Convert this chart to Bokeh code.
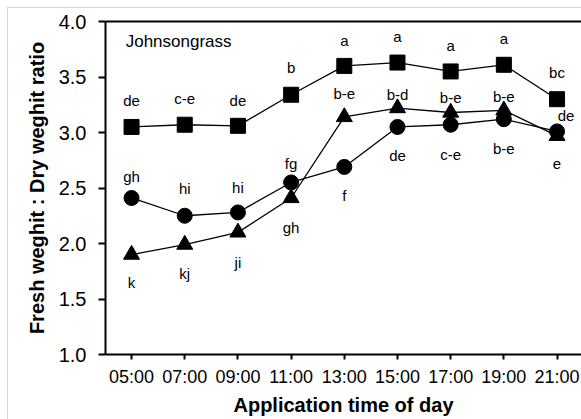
from bokeh.plotting import figure
from bokeh.models import (ColumnDataSource, FixedTicker, LinearAxis, Range1d,
                          NumeralTickFormatter)
from bokeh.embed import file_html
from bokeh.resources import INLINE
from bokeh.core.properties import value

# ---- data ----
times = ["05:00", "07:00", "09:00", "11:00", "13:00", "15:00", "17:00", "19:00", "21:00"]
square_vals = [3.05, 3.07, 3.06, 3.34, 3.60, 3.63, 3.55, 3.61, 3.30]
triangle_vals = [1.90, 1.99, 2.10, 2.41, 3.14, 3.22, 3.18, 3.20, 2.97]
circle_vals = [2.41, 2.25, 2.28, 2.55, 2.69, 3.05, 3.07, 3.12, 3.01]
square_labels = ["de", "c-e", "de", "b", "a", "a", "a", "a", "bc"]
triangle_labels = ["k", "kj", "ji", "gh", "b-e", "b-d", "b-e", "b-e", "e"]
circle_labels = ["gh", "hi", "hi", "fg", "f", "de", "c-e", "b-e", "de"]
y_ticks = [1.0, 1.5, 2.0, 2.5, 3.0, 3.5, 4.0]

# label placement (screen px offsets, style only)
square_dy = [-26, -26, -25, -27, -25, -26, -26, -26, -27]
triangle_dy = [28, 29, 30, 30, -23, -14, -15, -14, 28]
circle_dy = [-21, -27, -25, -19, 29, 29, 30, 29, -16]
circle_dx = [0, 0, 0, 0, 0, 0, 0, 0, 9]

FONT = "Liberation Sans"
idx = list(range(len(times)))

GRAY = "#d6d6d6"
frame_bg = (f"linear-gradient({GRAY},{GRAY}) 7px 7px / 1px 100% no-repeat, "
            f"linear-gradient({GRAY},{GRAY}) 7px 7px / 100% 1px no-repeat, white")

p = figure(width=581, height=419, output_backend="svg", toolbar_location=None,
           x_range=Range1d(-0.49, 8.46), y_range=Range1d(1.0, 4.0),
           min_border_left=105, min_border_top=21, min_border_right=0,
           min_border_bottom=65, styles={"background": frame_bg})
p.outline_line_color = None
p.grid.grid_line_color = None
p.background_fill_color = "white"
p.border_fill_color = None

# axes
xa = p.xaxis[0]
xa.ticker = FixedTicker(ticks=idx)
xa.major_label_overrides = {i: t for i, t in enumerate(times)}
xa.axis_label = "Application time of day"
ya = p.yaxis[0]
ya.ticker = FixedTicker(ticks=y_ticks)
ya.axis_label = "Fresh weghit : Dry weghit ratio"
ya.formatter = NumeralTickFormatter(format="0.0")

for ax in (xa, ya):
    ax.axis_line_width = 2
    ax.axis_line_color = "black"
    ax.major_tick_line_width = 2
    ax.major_tick_line_color = "black"
    ax.major_tick_in = 0
    ax.minor_tick_line_color = None
    ax.major_label_text_font = FONT
    ax.major_label_text_color = "black"
    ax.axis_label_text_font = FONT
    ax.axis_label_text_font_style = "bold"
    ax.axis_label_text_font_size = "20px"
    ax.axis_label_text_color = "black"

xa.major_tick_out = 5
xa.major_label_text_font_size = "18px"
xa.major_label_standoff = 7
xa.axis_label_standoff = 4
ya.major_tick_out = 7
ya.major_label_text_font_size = "20px"
ya.major_label_standoff = 12
ya.axis_label_standoff = 8

top = LinearAxis(ticker=FixedTicker(ticks=[]), major_label_text_font_size="0px",
                 axis_line_width=2, axis_line_color="black",
                 major_tick_line_color=None, minor_tick_line_color=None)
p.add_layout(top, "above")

# series
src_sq = ColumnDataSource(dict(x=idx, y=square_vals, t=square_labels, dy=square_dy))
src_tr = ColumnDataSource(dict(x=idx, y=triangle_vals, t=triangle_labels, dy=triangle_dy))
src_ci = ColumnDataSource(dict(x=idx, y=circle_vals, t=circle_labels, dy=circle_dy, dx=circle_dx))

for src, marker, size in ((src_ci, "circle", 15), (src_tr, "triangle", 16), (src_sq, "square", 15)):
    p.line("x", "y", source=src, line_color="black", line_width=1.3)
    p.scatter("x", "y", source=src, marker=marker, size=size,
              fill_color="black", line_color="black")

for src, has_dx in ((src_sq, False), (src_tr, False), (src_ci, True)):
    kw = dict(x_offset="dx") if has_dx else {}
    p.text("x", "y", text="t", source=src, y_offset="dy",
           text_align="center", text_baseline="middle",
           text_font=value(FONT), text_font_size="15px", text_color="black", **kw)

# panel title
p.text(x=[-0.11], y=[3.82], text=["Johnsongrass"], text_align="left",
       text_baseline="middle", text_font=value(FONT), text_font_size="17px",
       text_color="black")

open("out.html", "w").write(file_html(p, INLINE))
